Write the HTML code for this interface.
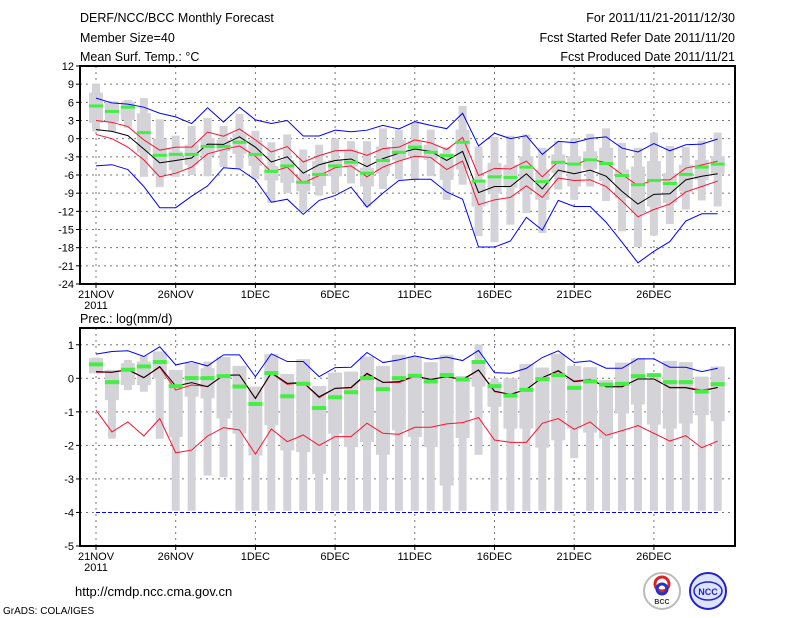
<!DOCTYPE html>
<html><head><meta charset="utf-8"><style>
body{margin:0;background:#fff;}
svg{display:block;font-family:"Liberation Sans",sans-serif;}
</style></head><body>
<svg id="c" width="800" height="618" xmlns="http://www.w3.org/2000/svg">
<g font-size="12.5" fill="#000">
<text x="80" y="22">DERF/NCC/BCC Monthly Forecast</text>
<text x="80" y="42">Member Size=40</text>
<text x="80" y="61">Mean Surf. Temp.: °C</text>
<text x="735" y="22" text-anchor="end">For 2011/11/21-2011/12/30</text>
<text x="735" y="42" text-anchor="end">Fcst Started Refer Date 2011/11/20</text>
<text x="735" y="61" text-anchor="end">Fcst Produced Date 2011/11/21</text>
<text x="80" y="323">Prec.: log(mm/d)</text>
<text x="75" y="596" font-size="13">http://cmdp.ncc.cma.gov.cn</text>
<text x="3" y="614" font-size="10">GrADS: COLA/IGES</text>
</g>
<g>
<circle cx="662" cy="591" r="18" fill="#fff" stroke="#bbb" stroke-width="2"/>
<circle cx="662" cy="584" r="7" fill="none" stroke="#d22" stroke-width="3"/>
<circle cx="662" cy="589" r="5" fill="none" stroke="#23c" stroke-width="3"/>
<text x="662" y="604" font-size="7" text-anchor="middle" font-weight="bold" fill="#333">BCC</text>
</g>
<g>
<circle cx="708" cy="591" r="18" fill="#dde4ff" stroke="#22c" stroke-width="2"/>
<ellipse cx="708" cy="591" rx="14" ry="9" fill="none" stroke="#22c" stroke-width="1.5"/>
<text x="708" y="595" font-size="9" text-anchor="middle" font-weight="bold" fill="#22c">NCC</text>
</g>
<g id="top"></g>
<g id="bot"></g>
</svg>
<script>
// ---------- top panel data (temperature) ----------
const days = ['21NOV','26NOV','1DEC','6DEC','11DEC','16DEC','21DEC','26DEC'];
const topTicks = [12,9,6,3,0,-3,-6,-9,-12,-15,-18,-21,-24];
const tBlueU = [6.7,5.9,5.7,5.2,4.2,3.6,2.5,5.1,2.75,5.2,3.1,2.5,3.0,0.45,0.45,1.4,1.15,1.4,2.2,1.6,2.8,2.2,1.65,4.2,-1.2,0.9,0,0.5,-2.6,-0.45,-0.65,0.05,0.3,-1.55,-2.2,-0.8,-2.0,-1.0,-0.9,-0.05];
const tRedU = [3.0,2.7,2.0,-0.2,-1.9,-1.4,-1.4,1.1,0.4,1.6,-0.2,-2.2,-1.3,-3.85,-2.8,-2.0,-1.9,-2.75,-1.65,-1.4,-0.2,-0.7,-1.8,0.2,-6.1,-4.9,-5.0,-3.7,-6.3,-3.8,-4.35,-3.35,-4.0,-5.9,-7.75,-6.8,-6.8,-4.85,-4.35,-3.7];
const tMean = [1.5,1.2,0.5,-1.7,-4.0,-3.6,-3.2,-0.9,-0.95,0.3,-1.4,-3.85,-3.0,-5.7,-4.3,-3.6,-3.35,-4.6,-3.3,-2.4,-1.7,-2.1,-3.6,-2.1,-8.9,-7.9,-7.9,-5.8,-8.3,-5.2,-5.8,-5.2,-6.2,-8.7,-10.8,-9.2,-9.1,-6.8,-6.2,-5.8];
const tRedL = [0.7,0,-1.4,-3.5,-6.3,-5.7,-4.7,-2.5,-1.8,-1.2,-2.9,-5.5,-4.7,-7.3,-6.1,-4.8,-4.5,-6.3,-4.7,-3.7,-2.9,-3.1,-5.1,-3.7,-10.9,-10.1,-9.7,-7.8,-9.7,-6.5,-6.9,-6.8,-7.9,-10.3,-12.9,-11.7,-10.8,-8.8,-7.9,-7.0];
const tBlueL = [-4.5,-4.3,-5.1,-7.9,-11.4,-11.4,-9.5,-7.8,-4.8,-5.0,-6.8,-10.5,-10.0,-12.5,-10.2,-9.4,-8.0,-11.3,-9.0,-6.9,-6.7,-6.7,-8.8,-10.0,-17.9,-17.9,-16.9,-13.0,-15.1,-10.2,-11.2,-11.2,-13.8,-17.1,-20.5,-18.6,-17.0,-13.6,-12.4,-12.4];
const tCtl = [5.4,4.5,5.2,1.0,-2.75,-2.6,-2.6,-1.3,-1.3,-0.6,-2.6,-5.4,-4.5,-7.2,-5.9,-4.5,-3.9,-5.7,-3.6,-2.25,-1.4,-2.25,-2.8,-0.6,-7.0,-6.3,-6.4,-4.7,-7.1,-3.9,-4.2,-3.5,-4.1,-6.1,-7.6,-6.9,-7.4,-5.9,-4.7,-4.2];
const tMax = [9.1,6.2,6.4,6.7,3.2,0.5,2.1,3.4,2.1,4.1,1.3,-0.6,0.7,-1.8,-1.0,0,-0.4,-0.4,1.7,1.4,2.6,1.5,-1.4,5.4,-1.3,0.3,0.5,0.7,-1.5,-0.4,0.1,0.8,1.7,-0.7,-1.5,1.0,-1.2,-1.4,-0.3,1.0];
const tMin = [1.2,1.2,1.8,-6.3,-8.0,-6.3,-6.0,-6.2,-4.7,-5.0,-6.7,-10.6,-9.0,-12.0,-9.4,-8.9,-7.4,-11.2,-8.3,-6.7,-6.8,-6.2,-10.1,-7.6,-16.1,-17.1,-14.2,-12.3,-15.6,-8.4,-10.1,-7.9,-10.3,-15.3,-17.9,-16.0,-14.1,-11.7,-10.2,-11.2];
const tQ3 = [7.6,6.0,6.1,4.2,0,-2.1,-1.0,0.1,-0.2,0.8,-0.2,-4.5,-3.5,-6.1,-3.7,-3.5,-1.8,-4.8,-1.3,-0.2,-0.4,-1.0,-2.4,1.5,-6.8,-4.0,-4.3,-2.9,-5.1,-2.6,-2.9,-2.1,-1.5,-5.1,-4.6,-3.7,-5.7,-4.3,-3.5,-2.9];
const tQ1 = [2.6,2.7,3.1,-2.3,-5.9,-5.2,-4.3,-2.9,-2.1,-2.5,-4.5,-6.9,-7.3,-8.7,-7.8,-6.2,-4.6,-7.9,-5.8,-3.5,-2.9,-3.5,-6.8,-5.1,-11.2,-9.0,-8.1,-8.7,-10.1,-5.7,-7.9,-5.1,-7.0,-9.8,-12.3,-11.2,-10.6,-8.7,-6.8,-5.8];

// ---------- bottom panel data (precip) ----------
const botTicks = [1,0,-1,-2,-3,-4,-5];
const pBlueU = [0.72,0.8,0.82,0.65,0.94,0.4,0.5,0.37,0.7,0.7,0.05,0.73,0.5,0.5,0.05,0.32,0.33,0.77,0.47,0.55,0.67,0.57,0.63,0.53,0.83,0.17,0.15,0.3,0.62,0.82,0.47,0.52,0.3,0.3,0.58,0.58,0.33,0.33,0.2,0.3];
const pRedU = [0.18,0.18,0.27,0.02,0.33,-0.35,-0.2,-0.24,0.08,0.1,-0.6,0.15,-0.18,-0.13,-0.58,-0.3,-0.29,0.12,-0.12,-0.13,0.06,-0.04,0.05,-0.05,0.24,-0.4,-0.48,-0.33,0.02,0.21,-0.08,-0.03,-0.25,-0.25,-0.02,-0.02,-0.27,-0.27,-0.35,-0.28];
const pMean = [0.2,0.18,0.25,0.02,0.35,-0.23,-0.13,-0.25,0.1,0.1,-0.6,0.17,-0.15,-0.12,-0.55,-0.3,-0.27,0.15,-0.12,-0.1,0.07,-0.03,0.05,-0.03,0.25,-0.38,-0.48,-0.33,0.02,0.23,-0.1,-0.05,-0.25,-0.25,-0.02,-0.02,-0.28,-0.28,-0.38,-0.27];
const pRedL = [-0.95,-1.6,-1.3,-1.72,-1.2,-2.22,-2.14,-1.72,-1.47,-1.54,-2.26,-1.51,-1.89,-1.69,-2.0,-1.74,-1.74,-1.34,-1.64,-1.67,-1.46,-1.46,-1.36,-1.32,-1.17,-1.84,-1.91,-1.91,-1.34,-1.2,-1.52,-1.3,-1.7,-1.56,-1.41,-1.64,-1.87,-1.71,-2.07,-1.87];
const pBlueL = [-4,-4,-4,-4,-4,-4,-4,-4,-4,-4,-4,-4,-4,-4,-4,-4,-4,-4,-4,-4,-4,-4,-4,-4,-4,-4,-4,-4,-4,-4,-4,-4,-4,-4,-4,-4,-4,-4,-4,-4];
const pCtl = [0.43,-0.1,0.27,0.37,0.5,-0.22,0.02,0.02,0.08,-0.23,-0.75,0.17,-0.52,-0.15,-0.87,-0.55,-0.4,0.02,-0.31,0.02,0.09,-0.08,0.11,-0.02,0.5,-0.22,-0.5,-0.33,-0.01,0.11,-0.27,-0.08,-0.17,-0.15,0.08,0.11,-0.1,-0.1,-0.38,-0.16];
const pMax = [0.62,0.25,0.55,0.67,0.8,0.25,0.45,0.5,0.63,0.37,-0.25,0.72,0.13,0.57,-0.23,0.17,0.2,0.65,0.37,0.7,0.65,0.48,0.7,0.07,1.01,0,0,0.43,0.32,0.72,0.37,0.33,-0.05,0.47,0.6,0,0.52,0.48,0.05,0.35];
const pMin = [0.15,-1.8,-0.35,-0.4,-1.8,-3.95,-3.95,-2.9,-2.95,-3.95,-3.95,-3.95,-3.95,-3.95,-3.95,-3.95,-3.95,-3.95,-3.95,-3.95,-3.95,-3.95,-3.95,-3.95,-2.28,-3.95,-3.95,-3.95,-3.95,-3.95,-2.38,-3.95,-3.95,-3.95,-3.95,-3.95,-3.95,-3.95,-3.95,-3.95];
const pQ3 = [0.6,0.25,0.45,0.5,0.8,0.25,0.45,0.3,0.63,0.37,-0.25,0.72,0.13,0.57,-0.23,0.17,0.2,0.65,0.37,0.7,0.65,0.48,0.7,0.07,0.5,-0.1,0,0.43,0.32,0.72,0.37,0.33,-0.05,0.47,0.6,0,0.52,0.48,0.05,0.35];
const pQ1 = [0.15,-0.65,-0.2,-0.2,0.0,-1.75,-0.55,-0.6,-1.2,-1.65,-2.3,-1.4,-2.15,-2.2,-2.85,-1.65,-2.05,-1.9,-2.28,-1.55,-1.75,-2.05,-3.2,-1.78,-0.25,-0.85,-1.5,-1.5,-2.07,-1.85,-1.5,-1.62,-1.8,-1.05,-0.78,-1.38,-1.5,-1.35,-1.1,-1.28];

const NS='http://www.w3.org/2000/svg';
const X0=80, X1=735, D0=96, DW=15.94;
function xs(d){return D0+d*DW;}
function mk(parent,tag,attrs){const e=document.createElementNS(NS,tag);for(const k in attrs)e.setAttribute(k,attrs[k]);parent.appendChild(e);return e;}

function panel(g,top,bot,vmax,vmin,ticks,S,blueDash){
  const ys=v=>top+(vmax-v)*(bot-top)/(vmax-vmin);
  ticks.forEach(t=>{
    if(t<vmax&&t>vmin){const l=mk(g,'line',{x1:X0,x2:X1,y1:ys(t),y2:ys(t),stroke:'#777','stroke-dasharray':'2,4','stroke-width':1});
    
    }
    const tk=mk(g,'line',{x1:X0-4,x2:X0,y1:ys(t),y2:ys(t),stroke:'#000'});
    
    
    const tx=mk(g,'text',{x:X0-6,y:ys(t)+4,'text-anchor':'end','font-size':11});
    tx.textContent=t;
    
    
  });
  days.forEach((lab,i)=>{
    const x=xs(i*5);
    const l=mk(g,'line',{x1:x,x2:x,y1:top,y2:bot,stroke:'#777','stroke-dasharray':'2,4'});
    
    
    const tk=mk(g,'line',{x1:x,x2:x,y1:bot,y2:bot+4,stroke:'#000'});
    
    
    const tx=mk(g,'text',{x:x,y:bot+14,'text-anchor':'middle','font-size':11});
    tx.textContent=lab;
    
    
  });
  const yr=mk(g,'text',{x:D0,y:bot+25,'text-anchor':'middle','font-size':11});
  yr.textContent='2011';
  
  
  S.max.forEach((v,d)=>{
    const x=xs(d);
    const r1=mk(g,'rect',{x:x-4,y:ys(S.max[d]),width:8,height:Math.max(1,ys(S.min[d])-ys(S.max[d])),fill:'#d4d4d8'});
    
    
    const r2=mk(g,'rect',{x:x-7,y:ys(S.q3[d]),width:14,height:Math.max(1,ys(S.q1[d])-ys(S.q3[d])),fill:'#d4d4d8'});
    
    
  });
  function line(arr,col,name,dash){
    const p=mk(g,'polyline',{points:arr.map((v,d)=>xs(d)+','+ys(v)).join(' '),fill:'none',stroke:col,'stroke-width':1});
    if(dash)p.setAttribute('stroke-dasharray','4,2');
    
    
  }
  line(S.bu,'#0000ff','upper-bound-line',false);
  line(S.bl,'#0000ff','lower-bound-line',blueDash);
  line(S.rl,'#ff1030','lower-std-line');
  line(S.ru,'#ff1030','upper-std-line');
  line(S.m,'#000','ensemble-mean-line');
  S.ctl.forEach((v,d)=>{
    const r=mk(g,'rect',{x:xs(d)-7,y:ys(v)-1.5,width:14,height:S.gh,fill:'#44ee44'});
    
    
  });
  const fr=mk(g,'rect',{x:X0,y:top,width:X1-X0,height:bot-top,fill:'none',stroke:'#000','stroke-width':2});
  
  
}
const gt=document.getElementById('top');


panel(gt,66,284,12,-24,topTicks,{bu:tBlueU,ru:tRedU,m:tMean,rl:tRedL,bl:tBlueL,ctl:tCtl,max:tMax,min:tMin,q3:tQ3,q1:tQ1,gh:3},false);
const gb=document.getElementById('bot');


panel(gb,328,546,1.5,-5,botTicks,{bu:pBlueU,ru:pRedU,m:pMean,rl:pRedL,bl:pBlueL,ctl:pCtl,max:pMax,min:pMin,q3:pQ3,q1:pQ1,gh:4},true);
</script>
</body></html>
